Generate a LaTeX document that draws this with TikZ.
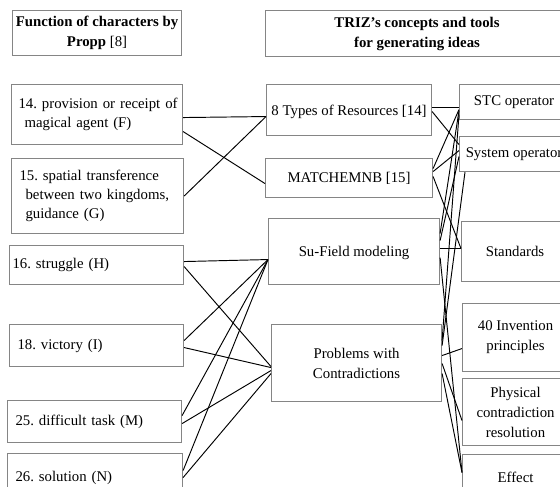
\documentclass[tikz,border=0pt]{standalone}
\usepackage{fontspec}
\setmainfont{Liberation Serif}
\frenchspacing
\begin{document}
\begin{tikzpicture}[x=1pt,y=-1pt,
  box/.style={draw=black!48,line width=1.1pt,anchor=north west,inner sep=0pt,
    font=\fontsize{14.8}{20}\selectfont\frenchspacing,align=center},
  lbox/.style={box,align=left,font=\fontsize{14.8}{19}\selectfont\frenchspacing},
  conn/.style={draw=black,line width=0.95pt}]
\useasboundingbox (0,0) rectangle (560,487);
\fill[white] (0,0) rectangle (560,487);
\clip (0,0) rectangle (560,487);
% headers
\node[box,minimum width=169pt,minimum height=45pt] (h1) at (12,10)
  {\textbf{Function of characters by}\\\textbf{Propp} [8]};
\node[box,minimum width=303pt,minimum height=46pt] (h2) at (265,10)
  {\textbf{TRIZ’s concepts and tools}\\\textbf{for generating ideas}};
% left column
\node[lbox,minimum width=171pt,minimum height=60pt,inner xsep=7pt,text width=157pt] (n14) at (11,84)
  {\mbox{14. provision or receipt of}\\\hspace*{6pt}magical agent (F)};
\node[lbox,minimum width=172pt,minimum height=75pt,inner xsep=8pt,text width=156pt] (n15) at (11,158)
  {\mbox{15. spatial transference}\\\hspace*{6pt}\mbox{between two kingdoms,}\\\hspace*{6pt}guidance (G)};
\node[lbox,minimum width=174pt,minimum height=39pt,inner xsep=3pt,text width=168pt] (n16) at (9,245)
  {16. struggle (H)};
\node[lbox,minimum width=174pt,minimum height=42pt,inner xsep=8pt,text width=158pt] (n18) at (9,324)
  {18. victory (I)};
\node[lbox,minimum width=174pt,minimum height=42pt,inner xsep=8pt,text width=158pt] (n25) at (7,400)
  {25. difficult task (M)};
\node[lbox,minimum width=175pt,minimum height=48pt,inner xsep=8pt,text width=159pt] (n26) at (7,453)
  {26. solution (N)};
% middle column
\node[box,minimum width=165pt,minimum height=51pt,text depth=-2pt] (res) at (266,84) {8 Types of Resources [14]};
\node[box,minimum width=167pt,minimum height=39pt] (mat) at (265,158) {MATCHEMNB [15]};
\node[box,minimum width=171pt,minimum height=66pt,text depth=-2pt] (suf) at (268,218) {Su-Field modeling};
\node[box,minimum width=170pt,minimum height=77pt] (pro) at (271,324) {Problems with\\Contradictions};
% right column
\node[box,minimum width=109pt,minimum height=35pt] (stc) at (459,84) {STC operator};
\node[box,minimum width=109pt,minimum height=35pt] (sys) at (459,136) {System operator};
\node[box,minimum width=107pt,minimum height=60pt] (std) at (461,221) {Standards};
\node[box,minimum width=106pt,minimum height=68pt] (ip) at (462,303) {40 Invention\\principles};
\node[box,minimum width=106pt,minimum height=67pt] (phy) at (462,378) {Physical\\contradiction\\resolution};
\node[box,minimum width=106pt,minimum height=46pt] (eff) at (462,454) {Effect};
% left -> middle
\draw[conn] ([yshift=-3pt]n14.east) -- ([yshift=-6.5pt]res.west);
\draw[conn] ([yshift=-17pt]n14.east) -- ([yshift=-5.5pt]mat.west);
\draw[conn] (n15.east) -- ([yshift=-6.5pt]res.west);
\draw[conn] ([yshift=3.5pt]n16.east) -- ([yshift=-8pt]suf.west);
\draw[conn] ([yshift=-1.5pt]n16.east) -- ([yshift=-3.5pt]pro.west);
\draw[conn] ([yshift=5pt]n18.east) -- ([yshift=-8pt]suf.west);
\draw[conn] ([yshift=-2pt]n18.east) -- ([yshift=-4.5pt]pro.west);
\draw[conn] ([yshift=6pt]n25.east) -- ([yshift=-8pt]suf.west);
\draw[conn] ([yshift=-2pt]n25.east) -- ([yshift=-7.5pt]pro.west);
\draw[conn] ([yshift=7pt]n26.east) -- ([yshift=-8pt]suf.west);
\draw[conn] (n26.east) -- ([yshift=-10.5pt]pro.west);
% middle -> right
\draw[conn] ([yshift=2.5pt]res.east) -- ([yshift=-5.5pt]stc.west);
\draw[conn] ([yshift=-1.5pt]res.east) -- ([yshift=9.5pt]sys.west);
\draw[conn] ([yshift=9.5pt]mat.east) -- ([yshift=-7.5pt]stc.west);
\draw[conn] ([yshift=6.5pt]mat.east) -- ([yshift=3.5pt]sys.west);
\draw[conn] ([yshift=1.5pt]mat.east) -- ([yshift=3pt]std.west);
\draw[conn] ([yshift=18pt]suf.east) -- ([yshift=-8.5pt]stc.west);
\draw[conn] ([yshift=11pt]suf.east) -- ([yshift=-2.5pt]sys.west);
\draw[conn] ([yshift=3pt]suf.east) -- ([yshift=3pt]std.west);
\draw[conn] ([yshift=-6pt]suf.east) -- ([yshift=5pt]eff.west);
\draw[conn] ([yshift=22.5pt]pro.east) -- ([yshift=-12.5pt]stc.west);
\draw[conn] ([xshift=6pt]sys.south west) -- ([yshift=17.5pt]pro.east);
\draw[conn] ([yshift=7.5pt]pro.east) -- ([yshift=-11pt]ip.west);
\draw[conn] ([yshift=-0.5pt]pro.east) -- ([yshift=-8.5pt]phy.west);
\draw[conn] ([yshift=-10.5pt]pro.east) -- ([yshift=5pt]eff.west);
\end{tikzpicture}
\end{document}
